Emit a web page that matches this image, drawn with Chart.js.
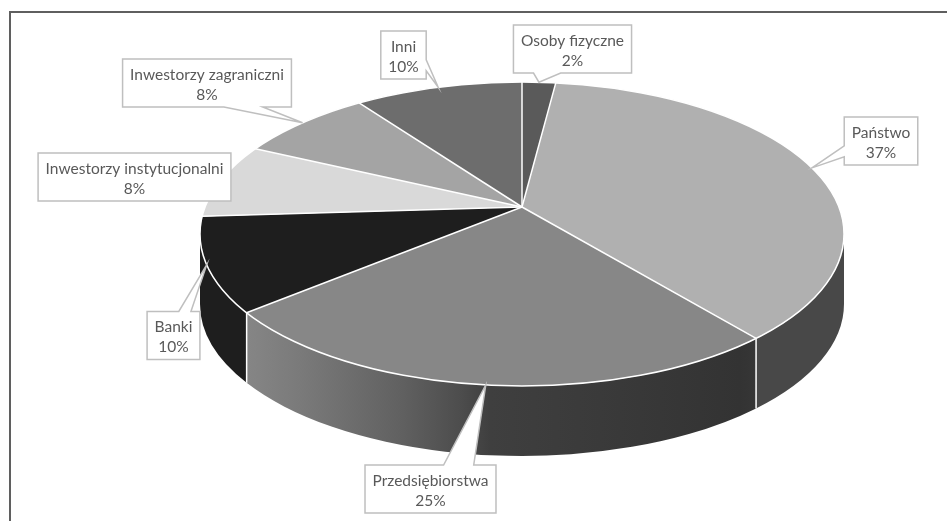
<!DOCTYPE html>
<html><head><meta charset="utf-8">
<script src="https://cdn.jsdelivr.net/npm/chart.js@4.4.1/dist/chart.umd.min.js"></script>
<style>html,body{margin:0;padding:0;background:#fff;overflow:hidden}canvas{display:block}</style>
</head><body>
<canvas id="c" width="947" height="521"></canvas>
<script>
// ---- data ----
const categories = ['Osoby fizyczne', 'Państwo', 'Przedsiębiorstwa', 'Banki', 'Inwestorzy instytucjonalni', 'Inwestorzy zagraniczni', 'Inni'];
const shares = [2, 37, 25, 10, 8, 8, 10];

// ---- style / layout ----
const sliceColors = ['#5a5a5a', '#b0b0b0', '#878787', '#1e1e1e', '#d9d9d9', '#a4a4a4', '#6d6d6d'];
const labelCenters = [[572.5, 49], [881, 141], [430.5, 489], [173.5, 335.5], [134.5, 177], [207, 83], [403.5, 55]];
const G = { ex: 522, ey: 234, rx: 322, ry: 152, ax: 522, ay: 207, pa: 317, pb: 147.2, k: 0.1776, depth: 70 };
const LABEL_FONT = '15.5px Lato';
const TEXT_COLOR = '#595959';

function proj(t) { const u = Math.cos(t), v = Math.sin(t), w = 1 - G.k * v; return [G.ax + G.pa * u / w, G.ay + G.pb * v / w]; }
function paramAngle(t) {
  const p = proj(t);
  let a = Math.atan2((p[1] - G.ey) / G.ry, (p[0] - G.ex) / G.rx);
  while (a < t - Math.PI) a += 2 * Math.PI;
  while (a > t + Math.PI) a -= 2 * Math.PI;
  return a;
}
function shade(hex, f) {
  const n = parseInt(hex.slice(1), 16);
  const r = Math.round(((n >> 16) & 255) * f), g = Math.round(((n >> 8) & 255) * f), b = Math.round((n & 255) * f);
  return `rgb(${r},${g},${b})`;
}
const shadeStops = [[200, 1], [240, 1], [300, 0.9], [400, 0.72], [460, 0.57], [490, 0.47], [600, 0.43], [740, 0.38], [760, 0.41], [845, 0.41]];

const pie3D = {
  id: 'pie3D',
  beforeDraw(chart) {
    const ctx = chart.ctx;
    ctx.save();
    ctx.strokeStyle = '#5f5f5f';
    ctx.lineWidth = 2;
    ctx.strokeRect(10, 12, 1200, 1200);
    ctx.restore();
  },
  beforeDatasetsDraw(chart) {
    const ctx = chart.ctx;
    const meta = chart.getDatasetMeta(0);
    // side walls
    meta.data.forEach((el, i) => {
      const { startAngle, endAngle } = el.getProps(['startAngle', 'endAngle'], true);
      let s = Math.max(paramAngle(startAngle), 0), e = Math.min(paramAngle(endAngle), Math.PI);
      if (e <= s) return;
      ctx.beginPath();
      ctx.ellipse(G.ex, G.ey, G.rx, G.ry, 0, s, e, false);
      ctx.ellipse(G.ex, G.ey + G.depth, G.rx, G.ry, 0, e, s, true);
      ctx.closePath();
      const x0 = G.ex - G.rx, x1 = G.ex + G.rx;
      const gr = ctx.createLinearGradient(x0, 0, x1, 0);
      shadeStops.forEach(([x, f]) => gr.addColorStop(Math.min(1, Math.max(0, (x - x0) / (x1 - x0))), shade(sliceColors[i], f)));
      ctx.fillStyle = gr;
      ctx.fill();
    });
    // top face: library arcs mapped into the perspective ellipse
    const el0 = meta.data[0];
    const R = el0.outerRadius, s = 1.6;
    ctx.save();
    ctx.beginPath();
    ctx.ellipse(G.ex, G.ey, G.rx, G.ry, 0, 0, 2 * Math.PI);
    ctx.clip();
    ctx.translate(G.ax, G.ay);
    ctx.scale(s * G.pa / R, s * G.pb / R);
    ctx.translate(-el0.x, -el0.y);
  },
  afterDatasetsDraw(chart) {
    const ctx = chart.ctx;
    ctx.restore();
    const meta = chart.getDatasetMeta(0);
    ctx.save();
    ctx.strokeStyle = '#ffffff';
    ctx.lineWidth = 1.5;
    meta.data.forEach((el) => {
      const { startAngle } = el.getProps(['startAngle'], true);
      const p = proj(startAngle);
      ctx.beginPath(); ctx.moveTo(G.ax, G.ay); ctx.lineTo(p[0], p[1]); ctx.stroke();
      const t = paramAngle(startAngle);
      const tt = ((t % (2 * Math.PI)) + 2 * Math.PI) % (2 * Math.PI);
      if (tt > 0.02 && tt < Math.PI - 0.02) {
        const x = G.ex + G.rx * Math.cos(tt), y = G.ey + G.ry * Math.sin(tt);
        ctx.beginPath(); ctx.moveTo(x, y); ctx.lineTo(x, y + G.depth); ctx.stroke();
      }
    });
    ctx.beginPath();
    ctx.ellipse(G.ex, G.ey, G.rx, G.ry, 0, 0, 2 * Math.PI);
    ctx.stroke();
    ctx.restore();
  },
  afterDraw(chart) {
    const ctx = chart.ctx;
    const meta = chart.getDatasetMeta(0);
    const total = shares.reduce((a, b) => a + b, 0);
    ctx.save();
    ctx.font = LABEL_FONT;
    meta.data.forEach((el, i) => {
      const { startAngle, endAngle } = el.getProps(['startAngle', 'endAngle'], true);
      const anchor = proj((startAngle + endAngle) / 2);
      const l1 = categories[i], l2 = Math.round(shares[i] / total * 100) + '%';
      const w = Math.max(ctx.measureText(l1).width, ctx.measureText(l2).width) + 15;
      const h = 48;
      const [cx, cy] = labelCenters[i];
      drawCallout(ctx, cx, cy, w, h, anchor);
      ctx.fillStyle = TEXT_COLOR;
      ctx.textAlign = 'center';
      ctx.textBaseline = 'alphabetic';
      ctx.fillText(l1, cx, cy - h / 2 + 20.5);
      ctx.fillText(l2, cx, cy - h / 2 + 40.5);
    });
    ctx.restore();
  }
};

function drawCallout(ctx, cx, cy, w, h, anchor) {
  const L = cx - w / 2, T = cy - h / 2, Rr = cx + w / 2, B = cy + h / 2;
  const [px, py] = anchor;
  const inside = px >= L && px <= Rr && py >= T && py <= B;
  let edge = null;
  if (!inside) {
    const nx = (px - cx) / (w / 2), ny = (py - cy) / (h / 2);
    if (Math.abs(nx) > Math.abs(ny)) edge = nx > 0 ? 'right' : 'left';
    else edge = ny > 0 ? 'bottom' : 'top';
  }
  const pts = [[L, T]];
  if (edge === 'top') { const p = px > cx ? [0.6, 0.83] : [0.17, 0.4]; pts.push([L + w * p[0], T], [px, py], [L + w * p[1], T]); }
  pts.push([Rr, T]);
  if (edge === 'right') { const p = py > cy ? [0.6, 0.83] : [0.17, 0.4]; pts.push([Rr, T + h * p[0]], [px, py], [Rr, T + h * p[1]]); }
  pts.push([Rr, B]);
  if (edge === 'bottom') { const p = px > cx ? [0.83, 0.6] : [0.4, 0.17]; pts.push([L + w * p[0], B], [px, py], [L + w * p[1], B]); }
  pts.push([L, B]);
  if (edge === 'left') { const p = py > cy ? [0.83, 0.6] : [0.4, 0.17]; pts.push([L, T + h * p[0]], [px, py], [L, T + h * p[1]]); }
  ctx.beginPath();
  pts.forEach(([x, y], j) => j ? ctx.lineTo(x, y) : ctx.moveTo(x, y));
  ctx.closePath();
  ctx.fillStyle = '#ffffff';
  ctx.fill();
  ctx.strokeStyle = '#bfbfbf';
  ctx.lineWidth = 1.5;
  ctx.stroke();
}

new Chart(document.getElementById('c'), {
  type: 'pie',
  data: { labels: categories, datasets: [{ data: shares, backgroundColor: sliceColors, borderWidth: 0, clip: false }] },
  options: {
    responsive: false, animation: false, events: [], devicePixelRatio: 1,
    plugins: { legend: { display: false }, tooltip: { enabled: false } }
  },
  plugins: [pie3D]
});
</script>
</body></html>
